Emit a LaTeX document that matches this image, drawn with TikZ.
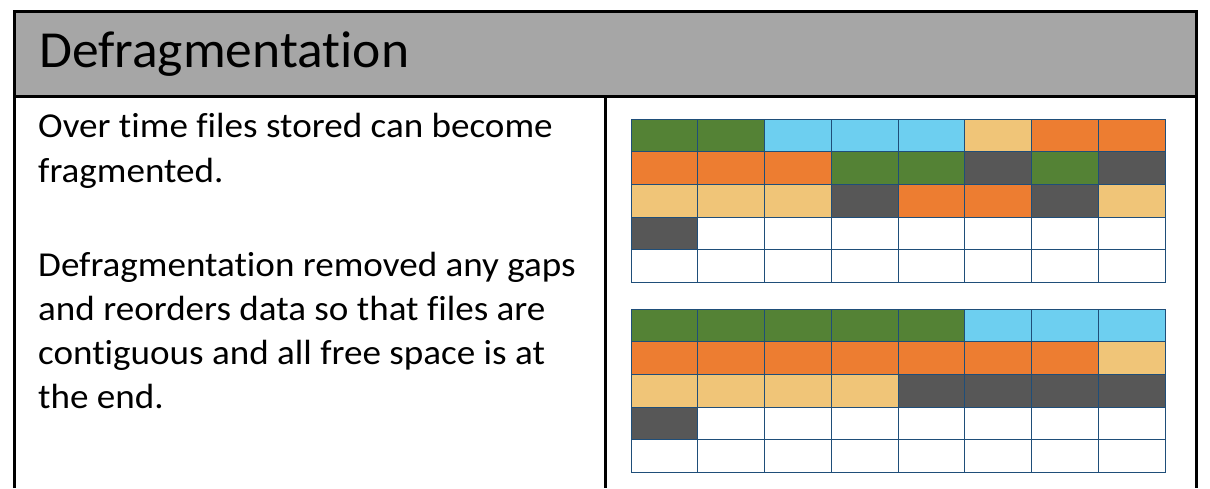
\documentclass[tikz,border=0pt]{standalone}
\usepackage{fontspec}
\setmainfont{Carlito}[Ligatures=NoCommon]
\newfontfamily\bodyfont{Carlito}[Ligatures=NoCommon, FakeStretch=1.06]
\newfontfamily\headfont{Carlito}[Ligatures=NoCommon, FakeStretch=1.03]
\definecolor{cG}{HTML}{548235}
\definecolor{cB}{HTML}{6DCFF0}
\definecolor{cY}{HTML}{F0C578}
\definecolor{cO}{HTML}{ED7D31}
\definecolor{cD}{HTML}{575757}
\definecolor{cW}{HTML}{FFFFFF}
\definecolor{gridline}{HTML}{1F4E79}
\definecolor{band}{HTML}{A6A6A6}
\tikzset{
  frame/.style={line width=3pt, black},
  cell/.style={draw=gridline, line width=0.9pt},
  bodytext/.style={anchor=base west, inner sep=0pt, font=\bodyfont\fontsize{35}{44}\selectfont},
  titletext/.style={anchor=base west, inner sep=0pt, font=\headfont\fontsize{52}{56}\selectfont}
}
\newcommand{\gridrow}[2]{% #1 = row index, #2 = list of colours
  \foreach \c [count=\i from 0] in {#2} {
    \fill[\c] ({\i*66.75},{-#1*32.7}) rectangle ++(66.75,-32.7);
  }
}
\begin{document}
\begin{tikzpicture}[x=1pt,y=1pt]
\useasboundingbox (0,0) rectangle (1210,-488);
% title band
\fill[band] (14,-11) rectangle (1196,-96);
\draw[frame] (14,-488) -- (14,-11) -- (1196,-11) -- (1196,-488);
\draw[frame] (14,-96) -- (1196,-96);
\draw[frame] (605,-96) -- (605,-488);
\node[titletext] (title) at (39,-67) {Defragmentation};
% text
\node[bodytext] (t1) at (38,-137) {Over time files stored can become};
\node[bodytext] (t2) at (38,-182) {fragmented.};
\node[bodytext] (t3) at (38,-276) {Defragmentation removed any gaps};
\node[bodytext] (t4) at (38,-320) {and reorders data so that files are};
\node[bodytext] (t5) at (38,-364) {contiguous and all free space is at};
\node[bodytext] (t6) at (38,-408) {the end.};
% grid 1
\begin{scope}[shift={(631,-119)}]
\gridrow{0}{cG,cG,cB,cB,cB,cY,cO,cO}
\gridrow{1}{cO,cO,cO,cG,cG,cD,cG,cD}
\gridrow{2}{cY,cY,cY,cD,cO,cO,cD,cY}
\gridrow{3}{cD,cW,cW,cW,cW,cW,cW,cW}
\gridrow{4}{cW,cW,cW,cW,cW,cW,cW,cW}
\draw[cell] (0,0) grid[xstep=66.75,ystep=32.7] (534,-163.5);
\draw[cell] (0,0) rectangle (534,-163.5);
\end{scope}
% grid 2
\begin{scope}[shift={(631,-309)}]
\gridrow{0}{cG,cG,cG,cG,cG,cB,cB,cB}
\gridrow{1}{cO,cO,cO,cO,cO,cO,cO,cY}
\gridrow{2}{cY,cY,cY,cY,cD,cD,cD,cD}
\gridrow{3}{cD,cW,cW,cW,cW,cW,cW,cW}
\gridrow{4}{cW,cW,cW,cW,cW,cW,cW,cW}
\draw[cell] (0,0) grid[xstep=66.75,ystep=32.7] (534,-163.5);
\draw[cell] (0,0) rectangle (534,-163.5);
\end{scope}
\end{tikzpicture}
\end{document}
